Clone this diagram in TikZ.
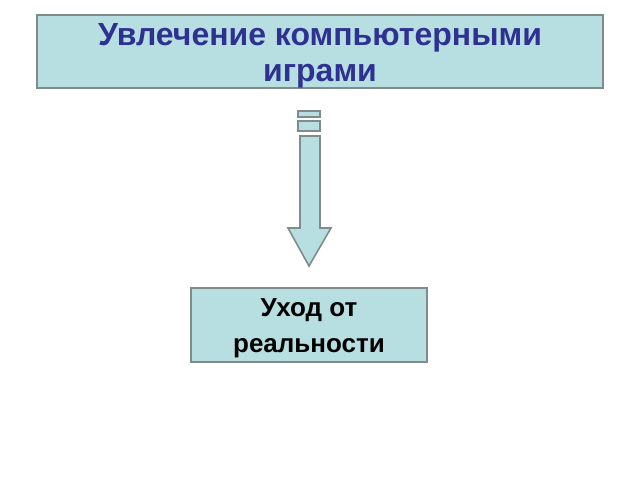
\documentclass[tikz,border=0pt]{standalone}
\usepackage{fontspec}
\setmainfont{Liberation Sans}
\definecolor{boxfill}{RGB}{183,222,224}
\definecolor{boxline}{RGB}{128,140,140}
\definecolor{titleblue}{RGB}{46,49,146}
\begin{document}
\begin{tikzpicture}[x=0.75pt,y=-0.75pt,
  box/.style={draw=boxline,fill=boxfill,line width=1.2pt,inner sep=0pt},
  boxtext/.style={align=center,inner sep=0pt}]
\useasboundingbox (0,0) rectangle (640,480);
\node[box,minimum width=566*0.75pt,minimum height=73*0.75pt] (top) at (320,51.5) {};
\node[boxtext,text=titleblue,font=\fontsize{24}{27.5}\selectfont\bfseries]
  (toptext) at ([yshift=-3.3pt]top.center) {Увлечение компьютерными\\играми};
\node[box,minimum width=236*0.75pt,minimum height=74*0.75pt] (bot) at (309,325) {};
\node[boxtext,text=black,font=\fontsize{19.5}{27}\selectfont\bfseries]
  (bottext) at ([yshift=-2.5pt]bot.center) {Уход от\\реальности};
\draw[draw=boxline,fill=boxfill,line width=1.2pt] (298,111) rectangle (320,117);
\draw[draw=boxline,fill=boxfill,line width=1.2pt] (298,121) rectangle (320,131);
\draw[draw=boxline,fill=boxfill,line width=1.2pt,line join=miter]
  (300,136) -- (320,136) -- (320,228) -- (331,228) -- (309,266) -- (288,228) -- (300,228) -- cycle;
\end{tikzpicture}
\end{document}
